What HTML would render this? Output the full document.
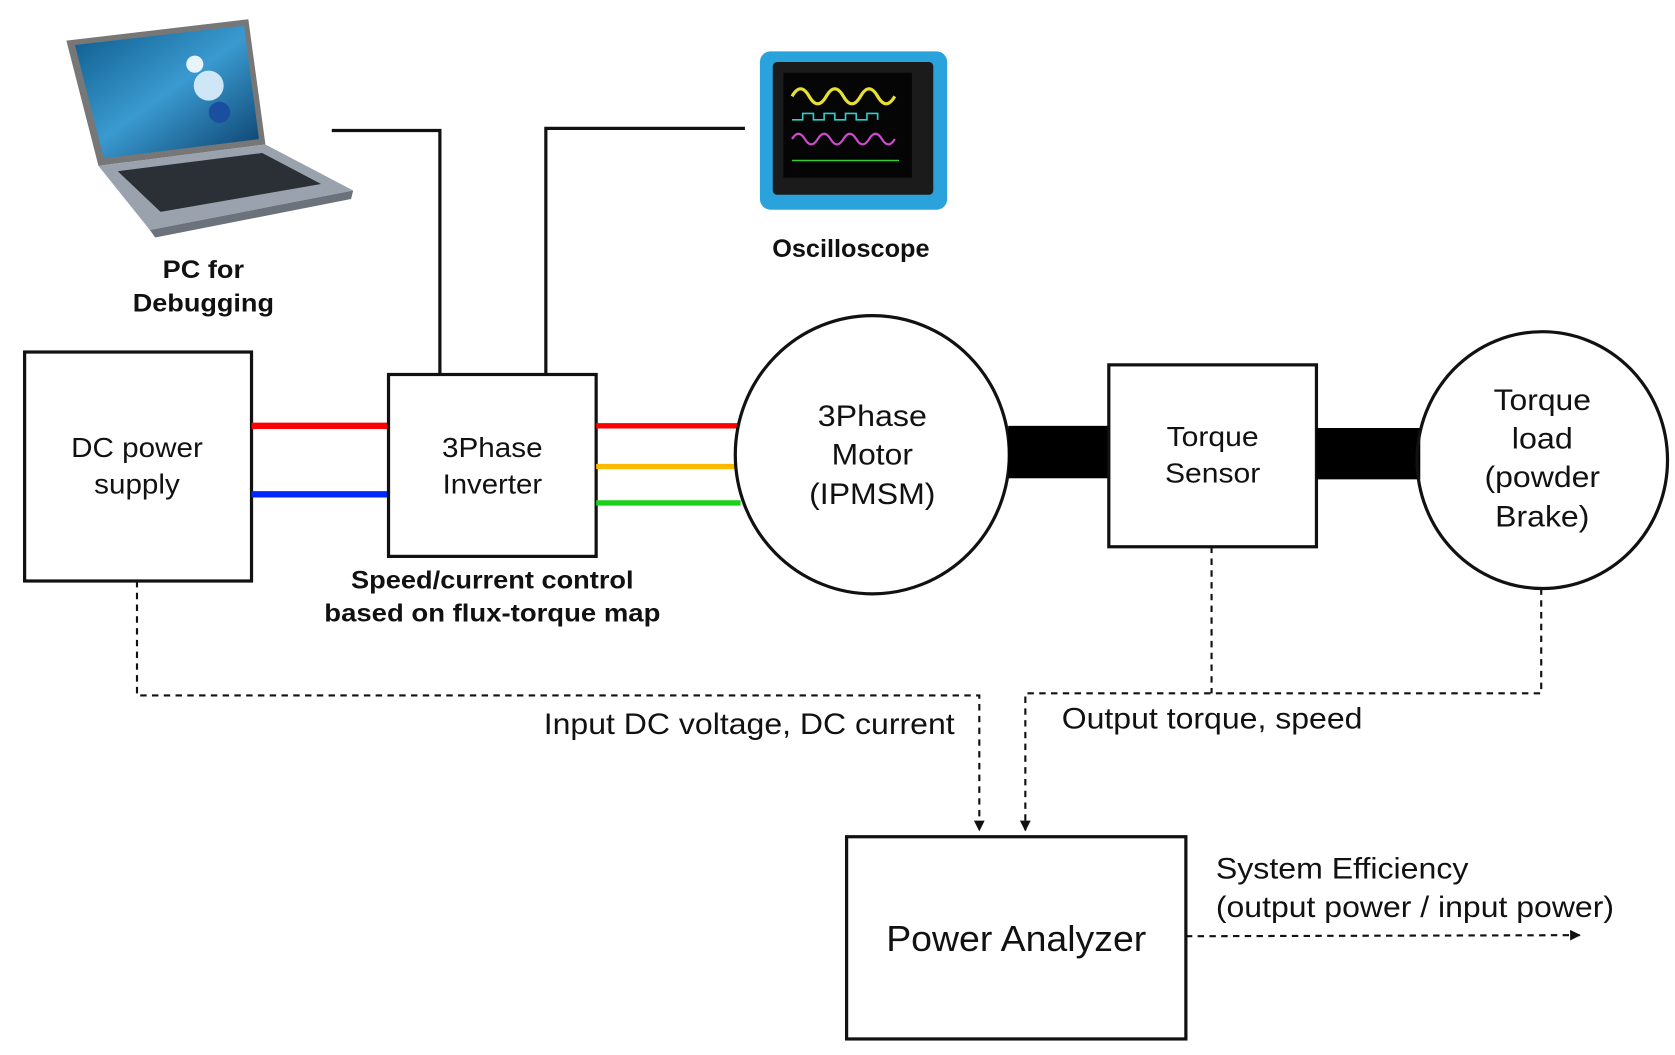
<!DOCTYPE html>
<html><head><meta charset="utf-8"><style>
html,body{margin:0;padding:0;background:#fff;}
svg{display:block;}
text{font-family:"Liberation Sans",Arial,sans-serif;fill:#111;}
.b{font-weight:bold;}
</style></head><body>
<svg width="1675" height="1055" viewBox="0 0 1565 986" preserveAspectRatio="none" xmlns="http://www.w3.org/2000/svg">
<defs>
<marker id="ar" markerWidth="10" markerHeight="10" refX="9" refY="5" orient="auto" markerUnits="userSpaceOnUse"><path d="M0,0 L10,5 L0,10 z" fill="#111"/></marker>
<linearGradient id="scr" x1="0" y1="0" x2="1" y2="1"><stop offset="0" stop-color="#0d5a8a"/><stop offset="0.5" stop-color="#3a9ad0"/><stop offset="1" stop-color="#0a3e6a"/></linearGradient>
</defs>
<!-- laptop -->
<polygon points="62,38 232,18 248,135 92,155" fill="#777"/>
<polygon points="70,42 228,24 242,130 97,148" fill="url(#scr)"/>
<circle cx="195" cy="80" r="14" fill="#cfe6f7"/><circle cx="205" cy="105" r="10" fill="#1a4fa0"/><circle cx="182" cy="60" r="8" fill="#e8f4fc"/>
<polygon points="92,155 248,135 330,178 140,215" fill="#9aa3ad"/>
<polygon points="110,160 245,143 300,172 150,198" fill="#2b2f36"/>
<polygon points="140,215 330,178 328,186 145,222" fill="#6b727c"/>
<!-- oscilloscope -->
<rect x="710" y="48" width="175" height="148" rx="10" fill="#2aa3dc"/>
<rect x="722" y="58" width="150" height="124" rx="4" fill="#1b1b1b"/>
<rect x="732" y="68" width="120" height="98" fill="#050505"/>
<path d="M740,90 q8,-14 16,0 t16,0 t16,0 t16,0 t16,0 t16,0" stroke="#e6e030" stroke-width="3" fill="none"/>
<path d="M740,112 h10 v-6 h10 v6 h10 v-6 h10 v6 h10 v-6 h10 v6 h10 v-6 h10 v6" stroke="#3cc" stroke-width="1.5" fill="none"/>
<path d="M740,130 q6,-10 12,0 t12,0 t12,0 t12,0 t12,0 t12,0 t12,0 t12,0" stroke="#d04ad0" stroke-width="2" fill="none"/>
<path d="M740,150 h100" stroke="#3c3" stroke-width="1.5" fill="none"/>
<text x="190" y="260" font-size="23" text-anchor="middle" class="b" textLength="76" lengthAdjust="spacingAndGlyphs">PC for</text>
<text x="190" y="291" font-size="23" text-anchor="middle" class="b" textLength="132" lengthAdjust="spacingAndGlyphs">Debugging</text>
<text x="795" y="240" font-size="23" text-anchor="middle" class="b" textLength="147" lengthAdjust="spacingAndGlyphs">Oscilloscope</text>
<!-- control lines -->
<polyline points="310,122 411,122 411,349" stroke="#111" stroke-width="3" fill="none"/>
<polyline points="696,120 510,120 510,349" stroke="#111" stroke-width="3" fill="none"/>
<!-- DC box -->
<rect x="23" y="329" width="212" height="214" fill="none" stroke="#111" stroke-width="3"/>
<text x="128" y="427" font-size="26" text-anchor="middle" textLength="123" lengthAdjust="spacingAndGlyphs">DC power</text>
<text x="128" y="461" font-size="26" text-anchor="middle" textLength="80" lengthAdjust="spacingAndGlyphs">supply</text>
<line x1="235" y1="398" x2="363" y2="398" stroke="#f00" stroke-width="6"/>
<line x1="235" y1="462" x2="363" y2="462" stroke="#0028ff" stroke-width="6"/>
<!-- inverter -->
<rect x="363" y="350" width="194" height="170" fill="none" stroke="#111" stroke-width="3"/>
<text x="460" y="427" font-size="26" text-anchor="middle" textLength="94" lengthAdjust="spacingAndGlyphs">3Phase</text>
<text x="460" y="461" font-size="26" text-anchor="middle" textLength="93" lengthAdjust="spacingAndGlyphs">Inverter</text>
<line x1="557" y1="398" x2="690" y2="398" stroke="#f00" stroke-width="5"/>
<line x1="557" y1="436" x2="688" y2="436" stroke="#ffb800" stroke-width="5"/>
<line x1="557" y1="470" x2="692" y2="470" stroke="#1ad01a" stroke-width="5"/>
<text x="460" y="550" font-size="23" text-anchor="middle" class="b" textLength="264" lengthAdjust="spacingAndGlyphs">Speed/current control</text>
<text x="460" y="581" font-size="23" text-anchor="middle" class="b" textLength="314" lengthAdjust="spacingAndGlyphs">based on flux-torque map</text>
<!-- motor -->
<ellipse cx="815" cy="425" rx="128" ry="130" fill="none" stroke="#111" stroke-width="3"/>
<text x="815" y="398" font-size="28" text-anchor="middle" textLength="102" lengthAdjust="spacingAndGlyphs">3Phase</text>
<text x="815" y="434" font-size="28" text-anchor="middle" textLength="76" lengthAdjust="spacingAndGlyphs">Motor</text>
<text x="815" y="471" font-size="28" text-anchor="middle" textLength="118" lengthAdjust="spacingAndGlyphs">(IPMSM)</text>
<rect x="942" y="398" width="94" height="49" fill="#000"/>
<!-- torque sensor -->
<rect x="1036" y="341" width="194" height="170" fill="none" stroke="#111" stroke-width="3"/>
<text x="1133" y="417" font-size="26" text-anchor="middle" textLength="86" lengthAdjust="spacingAndGlyphs">Torque</text>
<text x="1133" y="451" font-size="26" text-anchor="middle" textLength="89" lengthAdjust="spacingAndGlyphs">Sensor</text>
<rect x="1230" y="400" width="97" height="48" fill="#000"/>
<!-- load -->
<ellipse cx="1441" cy="430" rx="117" ry="120" fill="none" stroke="#111" stroke-width="3"/>
<text x="1441" y="383" font-size="28" text-anchor="middle" textLength="91" lengthAdjust="spacingAndGlyphs">Torque</text>
<text x="1441" y="419" font-size="28" text-anchor="middle" textLength="57" lengthAdjust="spacingAndGlyphs">load</text>
<text x="1441" y="455" font-size="28" text-anchor="middle" textLength="108" lengthAdjust="spacingAndGlyphs">(powder</text>
<text x="1441" y="492" font-size="28" text-anchor="middle" textLength="88" lengthAdjust="spacingAndGlyphs">Brake)</text>
<!-- dashed -->
<g stroke="#111" stroke-width="2" fill="none" stroke-dasharray="6,5">
<polyline points="128,543 128,650 915,650 915,776" marker-end="url(#ar)"/>
<polyline points="1132,511 1132,648"/>
<polyline points="1440,550 1440,648 958,648 958,776" marker-end="url(#ar)"/>
<line x1="1108" y1="875" x2="1476" y2="874" marker-end="url(#ar)"/>
</g>
<text x="508" y="686" font-size="28" textLength="384" lengthAdjust="spacingAndGlyphs">Input DC voltage, DC current</text>
<text x="992" y="681" font-size="28" textLength="281" lengthAdjust="spacingAndGlyphs">Output torque, speed</text>
<!-- power analyzer -->
<rect x="791" y="782" width="317" height="189" fill="none" stroke="#111" stroke-width="3"/>
<text x="828" y="889" font-size="34" textLength="243" lengthAdjust="spacingAndGlyphs">Power Analyzer</text>
<text x="1136" y="821" font-size="28" textLength="236" lengthAdjust="spacingAndGlyphs">System Efficiency</text>
<text x="1136" y="857" font-size="28" textLength="372" lengthAdjust="spacingAndGlyphs">(output power / input power)</text>
</svg>
</body></html>
